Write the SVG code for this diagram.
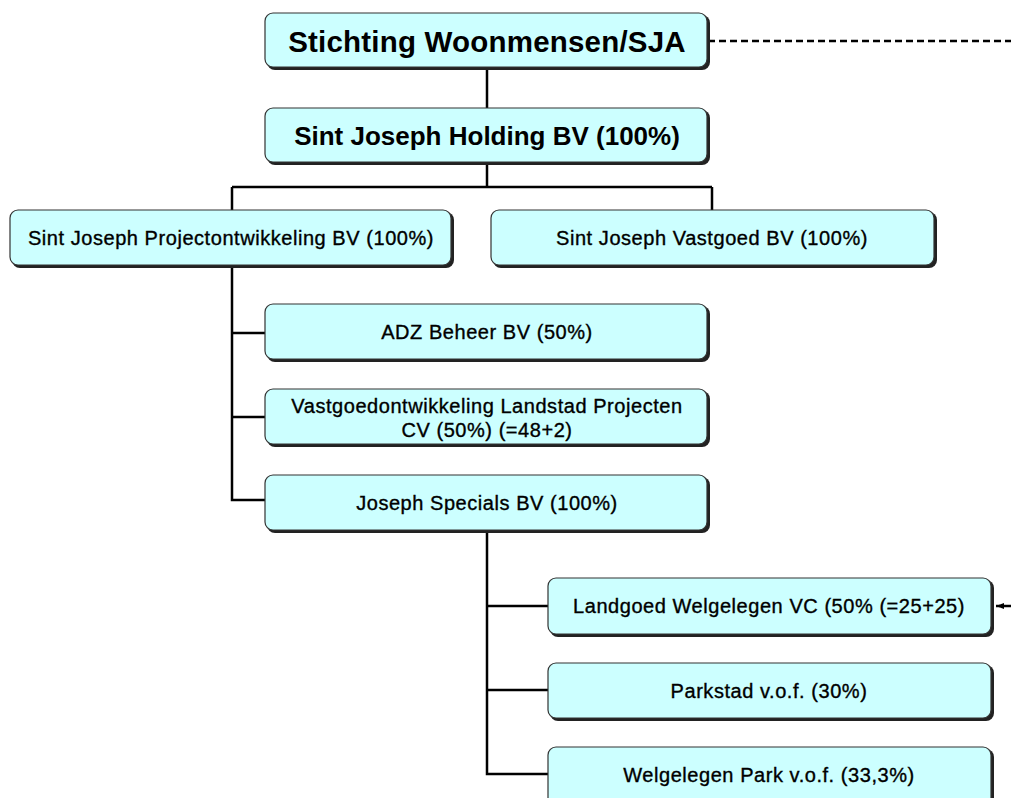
<svg xmlns="http://www.w3.org/2000/svg" width="1011" height="798" viewBox="0 0 1011 798">
<style>
.box{fill:#ccffff;stroke:#333;stroke-width:1.2}
.sh{fill:#222}
.t{font-family:"Liberation Sans",Arial,sans-serif;font-size:20px;fill:#000;stroke:#000;stroke-width:0.35;text-anchor:middle;letter-spacing:0.55px}
.tb{font-family:"Liberation Sans",Arial,sans-serif;font-weight:bold;fill:#000;text-anchor:middle}
.ln{stroke:#000;stroke-width:2.5;fill:none}
.dash{stroke:#000;stroke-width:2.4;fill:none;stroke-dasharray:7,4}
</style>
<defs>
<marker id="ah" markerWidth="9" markerHeight="8" refX="8" refY="4" orient="auto" markerUnits="userSpaceOnUse">
<path d="M0,1 L8,4 L0,7 Z" fill="#000"/>
</marker>
</defs>
<rect width="1011" height="798" fill="#fff"/>
<g id="connectors">
<path class="ln" d="M487,68 V108 M487,163 V187 M232,187 H712 M232,187 V210 M712,187 V210"/>
<path class="ln" d="M232,266 V500 H265 M232,333 H265 M232,417 H265"/>
<path class="ln" d="M487,531 V774 H548 M487,606 H548 M487,690 H548"/>
<path class="dash" d="M708,41 H1011"/>
<path class="dash" d="M1011,606 H996" marker-end="url(#ah)"/>
</g>
<g id="n1"><rect class="sh" x="267" y="15" width="443" height="55" rx="8"/><rect class="box" x="265" y="13" width="442" height="54" rx="8"/><text class="tb" x="487" y="52" font-size="29.5" letter-spacing="0.2">Stichting Woonmensen/SJA</text></g>
<g id="n2"><rect class="sh" x="267" y="110" width="443" height="55" rx="8"/><rect class="box" x="265" y="108" width="442" height="54" rx="8"/><text class="tb" x="487" y="145" font-size="26">Sint Joseph Holding BV (100%)</text></g>
<g id="n3"><rect class="sh" x="12" y="212" width="442" height="56" rx="8"/><rect class="box" x="10" y="210" width="441" height="55" rx="8"/><text class="t" x="231" y="245" letter-spacing="0.7">Sint Joseph Projectontwikkeling BV (100%)</text></g>
<g id="n4"><rect class="sh" x="493" y="212" width="444" height="56" rx="8"/><rect class="box" x="491" y="210" width="443" height="55" rx="8"/><text class="t" x="712" y="245">Sint Joseph Vastgoed BV (100%)</text></g>
<g id="n5"><rect class="sh" x="267" y="306" width="443" height="56" rx="8"/><rect class="box" x="265" y="304" width="442" height="55" rx="8"/><text class="t" x="487" y="339">ADZ Beheer BV (50%)</text></g>
<g id="n6"><rect class="sh" x="267" y="391" width="443" height="56" rx="8"/><rect class="box" x="265" y="389" width="442" height="55" rx="8"/><text class="t" x="487" y="413">Vastgoedontwikkeling Landstad Projecten</text><text class="t" x="487" y="437">CV (50%) (=48+2)</text></g>
<g id="n7"><rect class="sh" x="267" y="477" width="443" height="56" rx="8"/><rect class="box" x="265" y="475" width="442" height="55" rx="8"/><text class="t" x="487" y="510">Joseph Specials BV (100%)</text></g>
<g id="n8"><rect class="sh" x="550" y="580" width="444" height="57" rx="8"/><rect class="box" x="548" y="578" width="443" height="56" rx="8"/><text class="t" x="769" y="613">Landgoed Welgelegen VC (50% (=25+25)</text></g>
<g id="n9"><rect class="sh" x="550" y="665" width="444" height="56" rx="8"/><rect class="box" x="548" y="663" width="443" height="55" rx="8"/><text class="t" x="769" y="698">Parkstad v.o.f. (30%)</text></g>
<g id="n10"><rect class="sh" x="550" y="749" width="444" height="60" rx="8"/><rect class="box" x="548" y="747" width="443" height="60" rx="8"/><text class="t" x="769" y="782">Welgelegen Park v.o.f. (33,3%)</text></g>
</svg>
